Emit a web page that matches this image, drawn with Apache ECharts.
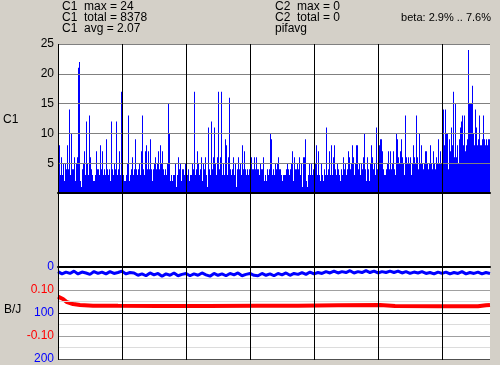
<!DOCTYPE html>
<html><head><meta charset="utf-8">
<script src="https://cdn.jsdelivr.net/npm/echarts@6/dist/echarts.min.js"></script>
<style>html,body{margin:0;padding:0;background:#d4d0c8}#c{width:500px;height:365px}</style>
</head><body><div id="c"></div>
<script>
// ---- data ----
// C1 bar heights, one value per pixel column (432 columns), in 7 blocks of 64 (last 48)
const c1Block1 = [8,8,3,6,3,5,2,5,4,8,4,14,3,10,4,4,6,2,5,6,21,22,2,1,4,5,7,3,12,5,3,13,6,4,3,2,2,3,7,4,4,3,8,4,7,3,4,3,9,4,3,4,2,12,4,3,5,4,12,3,4,7,3,17];
const c1Block2 = [3,3,2,2,3,5,13,2,3,4,6,3,4,9,4,3,4,5,3,7,13,4,3,7,8,4,7,4,9,4,2,4,5,6,4,5,7,4,8,5,7,4,3,4,3,5,15,10,2,3,2,3,3,5,1,3,6,4,5,2,4,4,3,5];
const c1Block3 = [3,3,4,2,3,3,5,4,17,3,4,7,5,3,4,6,2,5,4,6,3,1,11,4,3,12,4,6,11,5,3,6,17,4,6,17,3,5,3,9,8,3,6,16,4,3,4,6,3,5,1,4,6,4,5,3,8,4,7,4,3,4,3,4];
const c1Block4 = [4,6,4,4,6,4,6,4,4,3,5,4,4,6,2,3,2,4,3,4,10,9,3,4,3,5,4,5,6,4,4,3,2,3,3,3,4,5,4,3,4,5,7,2,6,4,4,5,4,6,3,5,1,6,6,9,2,1,3,5,3,5,3,4];
const c1Block5 = [4,5,8,3,7,3,2,5,3,2,4,3,11,3,4,7,3,8,3,6,8,4,3,5,4,3,2,4,3,6,4,5,3,4,7,6,4,5,8,6,3,5,8,8,4,5,3,5,4,6,10,4,2,6,4,2,5,8,6,4,5,3,11,4];
const c1Block6 = [5,8,9,9,7,4,3,3,4,5,7,4,7,4,5,7,4,3,10,9,6,5,7,9,6,5,3,13,6,5,6,5,6,3,5,8,6,5,13,6,4,10,5,8,5,4,5,7,7,5,4,5,8,5,4,7,5,4,6,5,9,5,7,5];
const c1Block7 = [9,14,8,14,10,10,4,9,7,11,8,17,6,15,6,8,5,9,11,12,13,8,13,7,8,9,24,15,15,15,18,10,8,14,11,8,9,13,8,8,9,13,9,8,9,8,9,9];
const c1Values = [].concat(c1Block1, c1Block2, c1Block3, c1Block4, c1Block5, c1Block6, c1Block7);
const c1Categories = c1Values.map((v, i) => String(i));

// lower panel: blue series (sampled every 4 columns) and red series
const blueStep = 4;
const blueValues = [10,15,11,14,9,15,11,13,16,10,14,11,15,10,14,12,9,15,12,
  13,18,15,19,13,17,14,20,15,18,13,19,16,14,19,15,18,13,17,20,14,18,15,19,14,17,13,19,16,14,18,
  19,14,18,15,19,14,17,13,18,14,16,12,16,11,15,12,14,10,13,
  9,13,10,12,8,13,10,12,8,12,9,13,10,12,9,
  12,9,13,10,14,11,13,10,14,12,15,11,14,
  11,15,12,14,10,15,12,14,11,15,12,14];
const redX = [0,5,9,15,22,35,60,100,150,200,240,280,322,337,380,420,428,432];
const redValues = [0.071,0.061,0.047,0.039,0.035,0.032,0.031,0.030,0.030,0.031,0.032,0.034,0.035,0.030,0.029,0.029,0.034,0.035];

// axis tick labels
const c1TickLabels = ['', '5', '10', '15', '20', '25'];
const blueTickLabels = {0: '0', 100: '100', 200: '200'};
const redTickLabels = [[0.1, '0.10'], [-0.1, '-0.10']];

// header texts
const headerLeft = ['C1  max = 24', 'C1  total = 8378', 'C1  avg = 2.07'];
const headerMid = ['C2  max = 0', 'C2  total = 0', 'pifavg'];
const headerRight = 'beta: 2.9% .. 7.6%';

// ---- chart ----
const FONT = '"Liberation Sans", Arial, sans-serif';
const chart = echarts.init(document.getElementById('c'), null, {renderer: 'canvas', width: 500, height: 365});

const lowerSplitColors = ['#000000','#dcdcdc','#a0a0a0','#dcdcdc','#000000','#dcdcdc','#a0a0a0','#dcdcdc','#505050'];

function txt(x, y, s, align, size) {
  return {type: 'text', z: 100, style: {x: x, y: y, text: s, font: (size || 12) + 'px ' + FONT, fill: '#000',
    textAlign: align || 'left', textVerticalAlign: 'middle'}};
}

const graphics = [];
headerLeft.forEach((s, i) => graphics.push(txt(62, [6.5, 17.5, 29][i], s)));
headerMid.forEach((s, i) => graphics.push(txt(275, [6.5, 17.5, 29][i], s)));
graphics.push(txt(491, 17.5, headerRight, 'right', 11));
graphics.push(txt(3, 120, 'C1'));
graphics.push(txt(4, 310, 'B/J'));

chart.setOption({
  animation: false,
  backgroundColor: '#d4d0c8',
  grid: [
    {left: 58, width: 432, top: 44, height: 316, show: true, backgroundColor: '#ffffff', borderWidth: 0},
    {left: 58, width: 432, top: 44, height: 149},
    {left: 58, width: 432, top: 267, height: 93}
  ],
  xAxis: [
    {gridIndex: 0, type: 'value', min: 0, max: 432, interval: 64, z: 10,
      axisLine: {show: false}, axisTick: {show: false}, axisLabel: {show: false},
      splitLine: {show: true, showMaxLine: false, lineStyle: {color: '#000000', width: 1}}},
    {gridIndex: 1, type: 'category', data: c1Categories, boundaryGap: true, z: 9,
      axisLine: {show: true, onZero: false, lineStyle: {color: '#000000', width: 2}},
      axisTick: {show: false}, axisLabel: {show: false}, splitLine: {show: false}},
    {gridIndex: 2, type: 'value', min: 0, max: 432, position: 'top', z: 9,
      axisLine: {show: true, onZero: false, lineStyle: {color: '#000000', width: 2}},
      axisTick: {show: false}, axisLabel: {show: false}, splitLine: {show: false}}
  ],
  yAxis: [
    {gridIndex: 0, type: 'value', min: 0, max: 1, show: false},
    {gridIndex: 1, type: 'value', min: 0, max: 25, interval: 5, z: 5,
      axisLine: {show: false}, axisTick: {show: false},
      axisLabel: {color: '#000', fontSize: 12, fontFamily: FONT, margin: 4,
        formatter: v => c1TickLabels[Math.round(v / 5)] || ''},
      splitLine: {show: true, lineStyle: {color: '#808080', width: 1}}},
    {gridIndex: 2, type: 'value', inverse: true, min: 0, max: 200, interval: 25, position: 'left', z: 5,
      axisLine: {show: false}, axisTick: {show: false},
      axisLabel: {color: '#0000ff', fontSize: 12, fontFamily: FONT, margin: 4,
        formatter: v => blueTickLabels[Math.round(v)] !== undefined && Math.abs(v % 100) < 1e-6 ? blueTickLabels[Math.round(v)] : ''},
      splitLine: {show: true, lineStyle: {color: lowerSplitColors, width: 1}}},
    {gridIndex: 2, type: 'value', min: -0.2, max: 0.2, interval: 0.1, position: 'left', offset: 0,
      axisLine: {show: false}, axisTick: {show: false}, splitLine: {show: false},
      axisLabel: {color: '#ff0000', fontSize: 12, fontFamily: FONT, margin: 4,
        formatter: v => { for (const [t, s] of redTickLabels) { if (Math.abs(v - t) < 1e-9) return s; } return ''; }}}
  ],
  series: [
    {type: 'bar', xAxisIndex: 1, yAxisIndex: 1, data: c1Values, barWidth: 1, barCategoryGap: '0%',
      itemStyle: {color: '#0000ff'}, silent: true, z: 2},
    {type: 'line', xAxisIndex: 2, yAxisIndex: 2, data: blueValues.map((v, i) => [i * blueStep, v]),
      showSymbol: false, symbol: 'none', lineStyle: {color: '#0000ff', width: 3}, z: 3},
    {type: 'line', xAxisIndex: 2, yAxisIndex: 3, data: redValues.map((v, i) => [redX[i], v]),
      showSymbol: false, symbol: 'none', lineStyle: {color: '#ff0000', width: 4}, z: 3}
  ],
  graphic: graphics
});
</script></body></html>
